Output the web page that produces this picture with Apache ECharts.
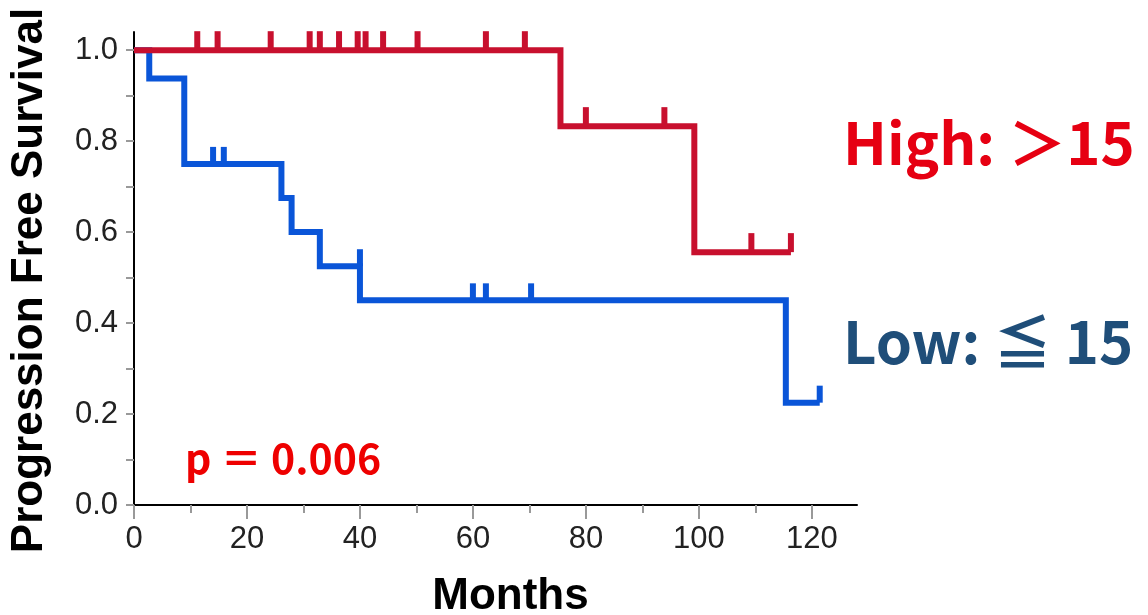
<!DOCTYPE html>
<html>
<head>
<meta charset="utf-8">
<script src="https://cdn.jsdelivr.net/npm/echarts@6/dist/echarts.min.js"></script>
<style>
    html, body { margin: 0; padding: 0; background: #fff; }
    #chart { width: 1148px; height: 615px; }
</style>
</head>
<body>
<div id="chart"></div>
<script>
// Kaplan-Meier steps (months, survival)
const highTimes = [0, 75.5, 99.2, 116.3]
const highSurv = [1.0, 0.833, 0.556, 0.556]
const highCensorTimes = [11.2, 14.8, 24.2, 31.1, 32.9, 36.3, 39.6, 41.0, 44.1, 50.2, 62.3, 69.2, 80.0, 93.9, 109.3, 116.3]
const highCensorSurv = [1, 1, 1, 1, 1, 1, 1, 1, 1, 1, 1, 1, 0.833, 0.833, 0.556, 0.556]

const lowTimes = [0, 2.7, 8.9, 26.1, 27.9, 32.9, 40.0, 115.4, 121.4]
const lowSurv = [1.0, 0.9375, 0.75, 0.675, 0.6, 0.525, 0.45, 0.225, 0.225]
const lowCensorTimes = [14.0, 15.9, 40.0, 60.0, 62.3, 70.3, 121.4]
const lowCensorSurv = [0.75, 0.75, 0.525, 0.45, 0.45, 0.45, 0.225]

const xLabels = [0, 20, 40, 60, 80, 100, 120]
const xMinorTicks = [10, 30, 50, 70, 90, 110]
const yTicks = [0, 0.1, 0.2, 0.3, 0.4, 0.5, 0.6, 0.7, 0.8, 0.9, 1.0]
const yLabels = [0, 0.2, 0.4, 0.6, 0.8, 1.0]

const RED = '#c8102e'
const BLUE = '#0a55d8'

const zip = (a, b) => a.map((v, i) => [v, b[i]])

const chart = echarts.init(document.getElementById('chart'))

const tickFont = { fontFamily: 'Liberation Sans', fontSize: 31, color: '#222' }

const option = {
    animation: false,
    grid: { left: 134, right: 291, top: 32, bottom: 110, outerBoundsMode: 'none' },
    xAxis: [
        {
            type: 'value',
            min: 0,
            max: 128,
            name: 'Months',
            nameLocation: 'middle',
            nameGap: 70,
            nameTextStyle: {
                fontFamily: 'Liberation Sans', fontWeight: 'bold', fontSize: 44, color: '#000',
                padding: [0, 0, 0, 30]
            },
            splitLine: { show: false },
            axisLine: { show: true, onZero: false, lineStyle: { color: '#000', width: 2 } },
            axisTick: { show: true, length: 14, customValues: xLabels, lineStyle: { color: '#999', width: 2 } },
            axisLabel: Object.assign({ margin: 19, customValues: xLabels }, tickFont)
        },
        {
            type: 'value',
            min: 0,
            max: 128,
            position: 'bottom',
            splitLine: { show: false },
            axisLine: { show: false },
            axisTick: { show: true, length: 8, customValues: xMinorTicks, lineStyle: { color: '#999', width: 2 } },
            axisLabel: { show: false }
        }
    ],
    yAxis: {
        type: 'value',
        min: 0,
        max: 1.04,
        name: 'Progression Free Survival',
        nameLocation: 'middle',
        nameGap: 82,
        nameTextStyle: {
            fontFamily: 'Liberation Sans', fontWeight: 'bold', fontSize: 44, color: '#000',
            padding: [0, 24, 0, 0]
        },
        splitLine: { show: false },
        axisLine: { show: true, lineStyle: { color: '#000', width: 2 } },
        axisTick: { show: true, length: 8, customValues: yTicks, lineStyle: { color: '#999', width: 2 } },
        axisLabel: Object.assign({
            margin: 16,
            customValues: yLabels,
            formatter: v => v.toFixed(1)
        }, tickFont)
    },
    series: [
        {
            name: 'Low',
            type: 'line',
            step: 'end',
            symbol: 'none',
            data: zip(lowTimes, lowSurv),
            lineStyle: { color: BLUE, width: 6, cap: 'butt', join: 'miter' },
            z: 2
        },
        {
            name: 'Low censored',
            type: 'scatter',
            symbol: 'rect',
            symbolSize: [6, 17],
            symbolOffset: [0, -8.5],
            data: zip(lowCensorTimes, lowCensorSurv),
            itemStyle: { color: BLUE, opacity: 1 },
            z: 2
        },
        {
            name: 'High',
            type: 'line',
            step: 'end',
            symbol: 'none',
            data: zip(highTimes, highSurv),
            lineStyle: { color: RED, width: 6, cap: 'butt', join: 'miter' },
            z: 3
        },
        {
            name: 'High censored',
            type: 'scatter',
            symbol: 'rect',
            symbolSize: [6, 19],
            symbolOffset: [0, -9.5],
            data: zip(highCensorTimes, highCensorSurv),
            itemStyle: { color: RED, opacity: 1 },
            z: 3
        }
    ],
    graphic: [
        {
            type: 'text',
            left: 843,
            top: 114,
            style: {
                text: 'High: ＞15',
                font: 'bold 58px "Noto Sans CJK JP"',
                fill: '#e60012'
            }
        },
        {
            type: 'text',
            left: 843,
            top: 313,
            style: {
                text: 'Low: ≦ 15',
                font: 'bold 58px "Noto Sans CJK JP"',
                fill: '#1f4e79'
            }
        },
        {
            type: 'text',
            left: 185,
            top: 438,
            style: {
                text: 'p ＝ 0.006',
                font: 'bold 41px "Noto Sans CJK JP"',
                fill: '#ee0000'
            }
        }
    ]
}

chart.setOption(option)
</script>
</body>
</html>
